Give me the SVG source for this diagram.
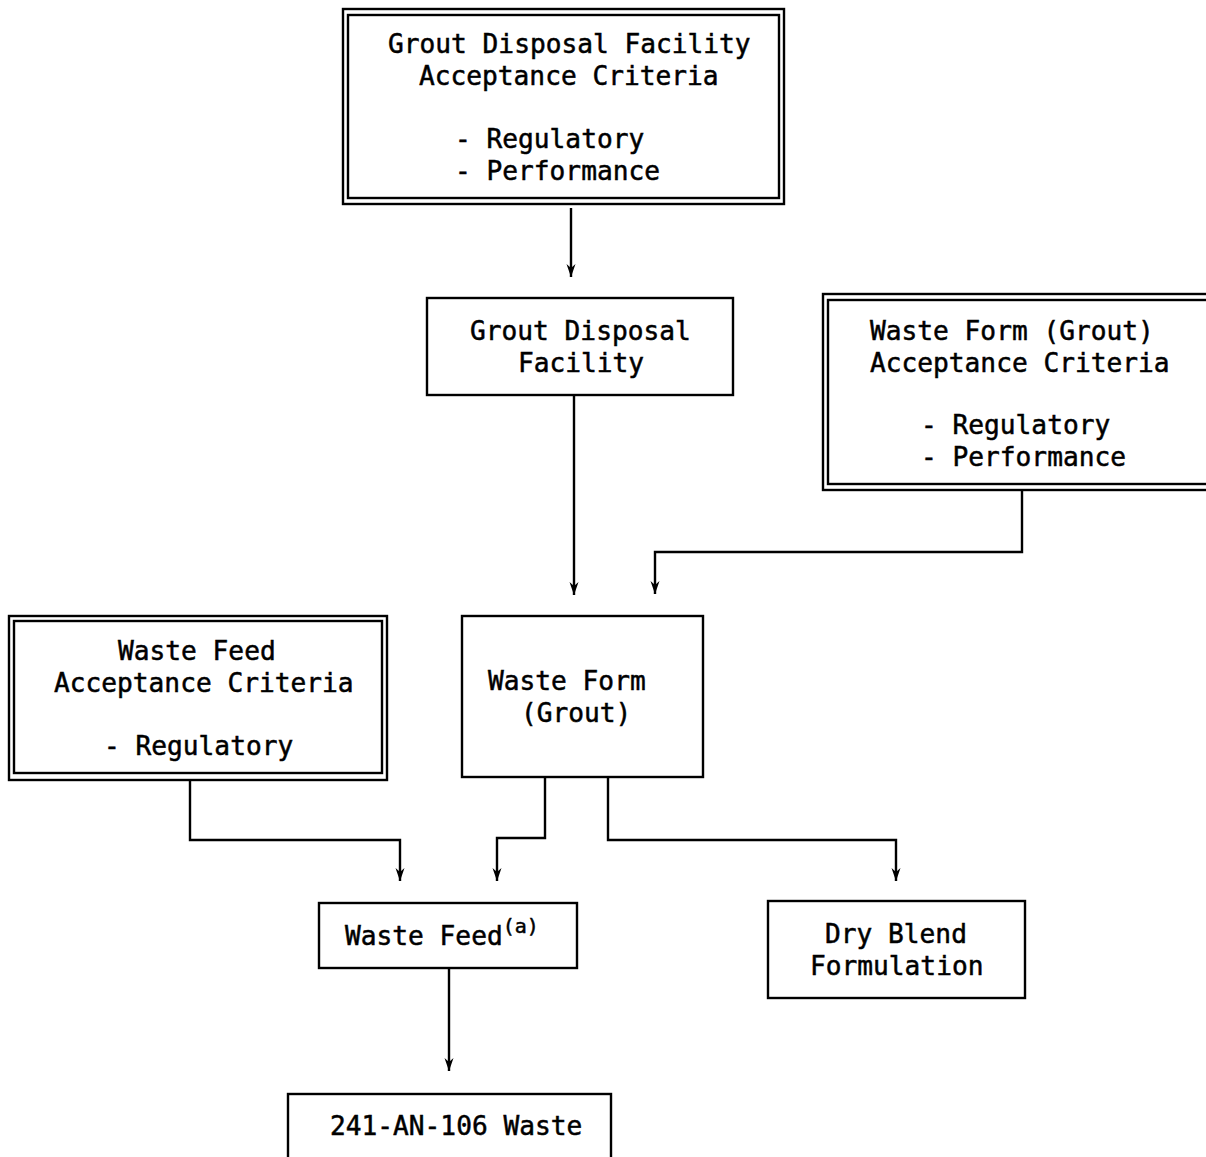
<svg xmlns="http://www.w3.org/2000/svg" width="1206" height="1157" viewBox="0 0 1206 1157">
<style>
.b{fill:#fff;stroke:#000;stroke-width:2.4}
.t{font-family:"DejaVu Sans Mono","Liberation Mono",monospace;font-size:26.2px;fill:#000;stroke:#000;stroke-width:0.5}
.s{font-size:20px}
.c{fill:none;stroke:#000;stroke-width:2.4}
</style>
<defs>
<marker id="ah" viewBox="0 0 13 10" refX="13" refY="5" markerWidth="13" markerHeight="10" markerUnits="userSpaceOnUse" orient="auto">
<path d="M0,0.5 L13,5 L0,9.5 L4,5 Z" fill="#000"/>
</marker>
</defs>
<rect width="1206" height="1157" fill="#fff"/>
<g id="connectors">
<path class="c" d="M571,208 V277" marker-end="url(#ah)"/>
<path class="c" d="M574,395 V595" marker-end="url(#ah)"/>
<path class="c" d="M1022,490 V552 H655 V594" marker-end="url(#ah)"/>
<path class="c" d="M190,781 V840 H400 V881" marker-end="url(#ah)"/>
<path class="c" d="M545,777 V838 H497 V881" marker-end="url(#ah)"/>
<path class="c" d="M608,777 V840 H896 V881" marker-end="url(#ah)"/>
<path class="c" d="M449,968 V1071" marker-end="url(#ah)"/>
</g>
<g id="gdf-criteria">
<rect class="b" x="343" y="9" width="441" height="195"/>
<rect class="b" x="348" y="15" width="431" height="183"/>
<text class="t" x="388" y="53">Grout Disposal Facility</text>
<text class="t" x="419" y="85">Acceptance Criteria</text>
<text class="t" x="455" y="148">- Regulatory</text>
<text class="t" x="455" y="180">- Performance</text>
</g>
<g id="gdf">
<rect class="b" x="427" y="298" width="306" height="97"/>
<text class="t" x="470" y="340">Grout Disposal</text>
<text class="t" x="518" y="372">Facility</text>
</g>
<g id="wf-criteria">
<rect class="b" x="823" y="294" width="400" height="196"/>
<rect class="b" x="828" y="300" width="390" height="184"/>
<text class="t" x="870" y="340">Waste Form (Grout)</text>
<text class="t" x="870" y="372">Acceptance Criteria</text>
<text class="t" x="921" y="434">- Regulatory</text>
<text class="t" x="921" y="466">- Performance</text>
</g>
<g id="wfeed-criteria">
<rect class="b" x="9" y="616" width="378" height="164"/>
<rect class="b" x="14" y="621" width="368" height="152"/>
<text class="t" x="118" y="660">Waste Feed</text>
<text class="t" x="54" y="692">Acceptance Criteria</text>
<text class="t" x="104" y="755">- Regulatory</text>
</g>
<g id="waste-form">
<rect class="b" x="462" y="616" width="241" height="161"/>
<text class="t" x="488" y="690">Waste Form</text>
<text class="t" x="521" y="722">(Grout)</text>
</g>
<g id="waste-feed">
<rect class="b" x="319" y="903" width="258" height="65"/>
<text class="t" x="345" y="945">Waste Feed<tspan class="s" dy="-12">(a)</tspan></text>
</g>
<g id="dry-blend">
<rect class="b" x="768" y="901" width="257" height="97"/>
<text class="t" x="825" y="943">Dry Blend</text>
<text class="t" x="810" y="975">Formulation</text>
</g>
<g id="an106">
<rect class="b" x="288" y="1094" width="323" height="80"/>
<text class="t" x="330" y="1135">241-AN-106 Waste</text>
</g>
</svg>
